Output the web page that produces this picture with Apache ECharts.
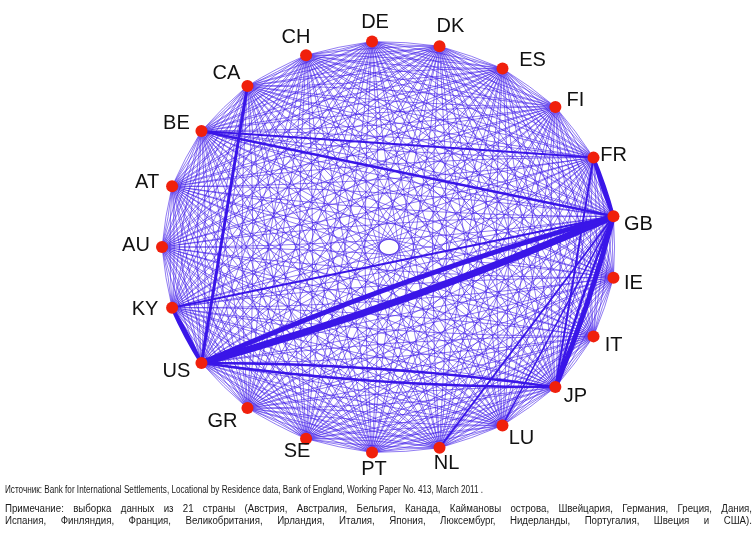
<!DOCTYPE html>
<html><head><meta charset="utf-8">
<script src="https://cdn.jsdelivr.net/npm/echarts@6/dist/echarts.min.js"></script>
<style>html,body{margin:0;padding:0;background:#fff}#chart{width:756px;height:533px}</style>
</head><body><div id="chart"></div>
<script>
// Countries, clockwise around the ring starting just below the right-hand axis
const countries = ['IE','IT','JP','LU','NL','PT','SE','GR','US','KY','AU','AT','BE','CA','CH','DE','DK','ES','FI','FR','GB'];
// Every pair of countries is linked in both directions; width of an ordinary link
const baseLinkWidth = 0.75;
// Heavier bilateral positions: [from, to, width]
const heavyFlows = [
  ['GB','US',7], ['US','GB',5],
  ['GB','JP',5], ['JP','GB',2.5],
  ['GB','FR',3.5], ['FR','GB',3],
  ['US','KY',3.5], ['KY','US',3],
  ['US','JP',2.5], ['JP','US',2.5],
  ['CA','US',3],
  ['BE','GB',2.5],
  ['BE','FR',2],
  ['KY','GB',2],
  ['FR','JP',2],
  ['GB','NL',1.8],
  ['GB','LU',1.5]
];
const sourceNote = 'Источник: Bank for International Settlements, Locational by Residence data, Bank of England, Working Paper No. 413, March 2011 .';
const noteLines = [
  'Примечание: выборка данных из  21 страны (Австрия, Австралия, Бельгия, Канада, Каймановы острова, Швейцария, Германия, Греция, Дания,',
  'Испания, Финляндия, Франция, Великобритания, Ирландия, Италия, Япония, Люксембург, Нидерланды, Португалия, Швеция и США).'
];

// label placement around the ring (pixels from the node centre)
const labelOffset = {
  IE:[20,6], IT:[20,9], JP:[20,9], LU:[19,13], NL:[7,16], PT:[2,17], SE:[-9,13],
  GR:[-25,13], US:[-25,8], KY:[-27,2], AU:[-26,-2], AT:[-25,-4], BE:[-25,-7],
  CA:[-21,-12], CH:[-10,-18], DE:[3,-19], DK:[11,-20], ES:[30,-8], FI:[20,-6],
  FR:[20,-2], GB:[25,8]
};

const EDGE = '#3a16e8';
const CURVE = 0.035;   // each direction of a pair bows to its own side
const n = countries.length;
const nodes = countries.map((c, i) => {
  const t = (i + 0.5) * 2 * Math.PI / n;   // clockwise on screen
  return {
    name: c,
    value: [Math.cos(t), -Math.sin(t)],
    label: { offset: labelOffset[c] }
  };
});

const links = [];
for (let i = 0; i < n; i++) {
  for (let j = i + 1; j < n; j++) {
    [[i, j], [j, i]].forEach(([a, b]) => {
      links.push({ source: countries[a], target: countries[b],
        lineStyle: { width: baseLinkWidth, opacity: 0.75, curveness: CURVE } });
    });
  }
}
const pairKey = (a, b) => [a, b].sort().join('-');
const pairCount = {};
heavyFlows.forEach(f => { const k = pairKey(f[0], f[1]); pairCount[k] = (pairCount[k] || 0) + 1; });
heavyFlows.forEach(([a, b, w]) => {
  const both = pairCount[pairKey(a, b)] > 1;
  links.push({ source: a, target: b,
    lineStyle: { width: w, opacity: 1, curveness: both ? CURVE : 0 } });
});

// footnotes
const FOOT_FONT_SIZE = 10;
const FOOT_FAMILY = '"Liberation Sans", Arial, sans-serif';
const NOTE_CONDENSE = 0.97;
const ctx = document.createElement('canvas').getContext('2d');
ctx.font = FOOT_FONT_SIZE + 'px ' + FOOT_FAMILY;
function textEl(str, x, y, sx) {
  return { type: 'text', x, y, scaleX: sx, style: { text: str, fill: '#1a1a1a', fontSize: FOOT_FONT_SIZE,
    fontFamily: FOOT_FAMILY, verticalAlign: 'middle', align: 'left' } };
}
function justified(str, y, x0, x1) {
  const words = str.split(/\s+/);
  const widths = words.map(w => ctx.measureText(w).width * NOTE_CONDENSE);
  const total = widths.reduce((a, b) => a + b, 0);
  const gap = (x1 - x0 - total) / (words.length - 1);
  const out = [];
  let x = x0;
  words.forEach((w, k) => { out.push(textEl(w, x, y, NOTE_CONDENSE)); x += widths[k] + gap; });
  return out;
}

// the source line is set narrow, ending about two thirds across
const sourceScale = 478 / ctx.measureText(sourceNote).width;
const graphics = [textEl(sourceNote, 5, 490, sourceScale)]
  .concat(justified(noteLines[0], 509, 5, 752))
  .concat(justified(noteLines[1], 521, 5, 752));

const chart = echarts.init(document.getElementById('chart'), null, { renderer: 'canvas' });
chart.setOption({
  backgroundColor: '#fff',
  animation: false,
  grid: { left: 162, right: 140, top: 41, bottom: 80 },
  xAxis: { type: 'value', min: -1, max: 1, show: false },
  yAxis: { type: 'value', min: -1, max: 1, show: false },
  graphic: graphics,
  series: [{
    type: 'graph',
    coordinateSystem: 'cartesian2d',
    symbol: 'circle',
    symbolSize: 12,
    z: 2,
    itemStyle: { color: '#f0200c' },
    label: {
      show: true, position: 'inside', formatter: '{b}',
      fontSize: 20, color: '#111', fontFamily: '"Liberation Sans", Arial, sans-serif'
    },
    lineStyle: { color: EDGE },
    emphasis: { disabled: true },
    data: nodes,
    links: links
  }]
});
</script></body></html>
